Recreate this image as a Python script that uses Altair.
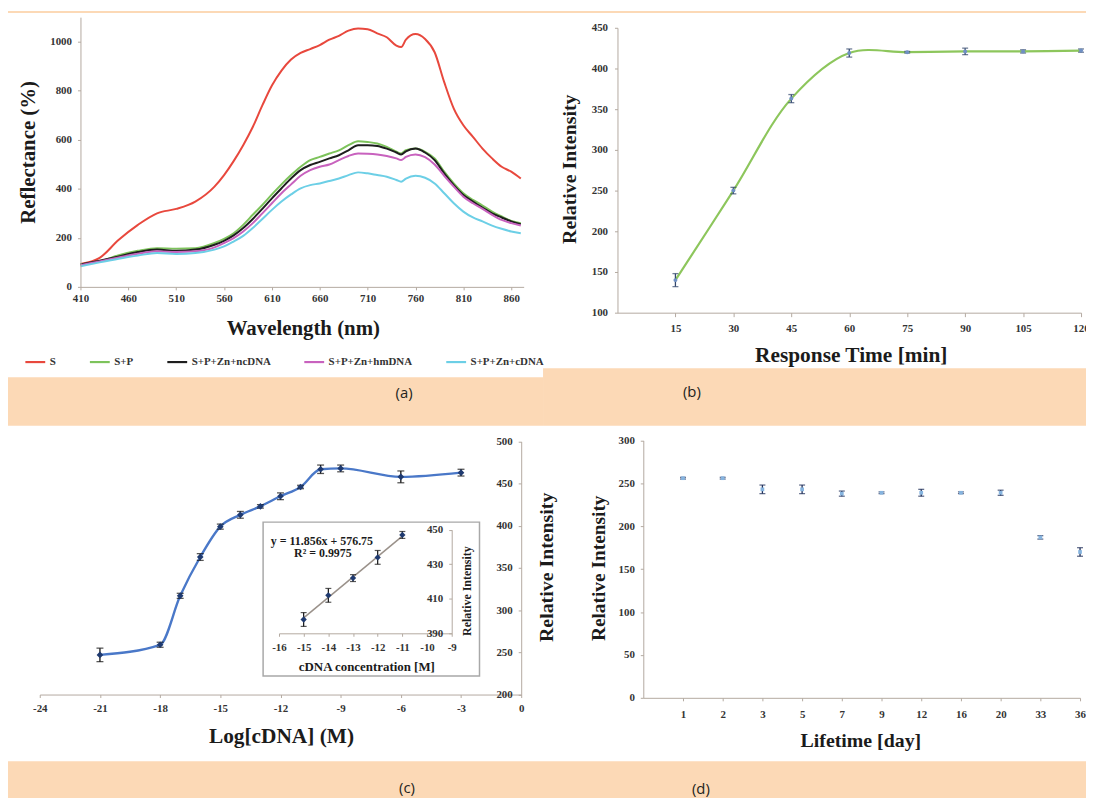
import altair as alt
import pandas as pd

W, H = 1086, 793
PEACH = "#FCD9B6"
SERIF = "Liberation Serif"
AXC = "#b3a9a0"

# ---------------- data ----------------
wavelength = [410, 430, 450, 470, 490, 510, 530, 550, 560, 570, 580, 590, 600, 610, 620,
              630, 640, 650, 660, 670, 680, 690, 700, 710, 720, 730, 740, 745, 750, 760,
              770, 780, 790, 800, 810, 820, 830, 840, 850, 860, 870]
refl_S = [93, 118, 192, 253, 300, 318, 348, 409, 456, 513, 578, 652, 740, 821, 882,
          927, 954, 970, 986, 1008, 1024, 1045, 1054, 1051, 1034, 1018, 984, 978, 1008, 1031,
          1011, 957, 835, 727, 659, 612, 564, 524, 490, 470, 442]
refl_SP = [91, 104, 129, 147, 158, 156, 158, 179, 196, 219, 253, 294, 334, 377, 418,
           456, 490, 517, 530, 544, 557, 578, 594, 591, 585, 571, 551, 544, 557, 564,
           551, 524, 470, 422, 382, 355, 332, 307, 287, 269, 260]
refl_nc = [91, 107, 124, 142, 152, 147, 152, 172, 188, 210, 240, 277, 318, 361, 402,
           442, 476, 497, 510, 524, 537, 557, 578, 578, 575, 564, 548, 540, 553, 564,
           548, 517, 463, 415, 375, 348, 323, 300, 283, 267, 256]
refl_hm = [88, 104, 120, 135, 145, 142, 145, 161, 179, 199, 226, 260, 300, 341, 382,
           418, 453, 476, 490, 499, 517, 534, 544, 543, 540, 534, 524, 517, 530, 540,
           529, 499, 453, 409, 368, 341, 318, 294, 273, 260, 250]
refl_c = [84, 100, 115, 128, 138, 134, 138, 152, 165, 185, 208, 240, 277, 314, 348,
          377, 402, 415, 422, 432, 442, 456, 467, 463, 456, 449, 436, 429, 442, 453,
          445, 422, 382, 341, 307, 283, 267, 250, 237, 226, 219]
series_names = ["S", "S+P", "S+P+Zn+ncDNA", "S+P+Zn+hmDNA", "S+P+Zn+cDNA"]
series_colors = ["#E8483D", "#7DC35B", "#1E1E1E", "#C862BE", "#6CCFE6"]
wl_ticks = [410, 460, 510, 560, 610, 660, 710, 760, 810, 860]
refl_ticks = [0, 200, 400, 600, 800, 1000]

time_min = [15, 30, 45, 60, 75, 90, 105, 120]
time_val = [140, 250, 363, 419, 420, 421, 421, 422]
time_err = [8, 4, 5, 5, 1, 4, 2, 2]
time_ticks = [15, 30, 45, 60, 75, 90, 105, 120]
time_yticks = [100, 150, 200, 250, 300, 350, 400, 450]

logc = [-21, -18, -17, -16, -15, -14, -13, -12, -11, -10, -9, -6, -3]
logc_val = [247, 259, 317, 363, 399, 413, 423, 435, 446, 467, 468, 458, 463]
logc_err = [8, 3, 3, 4, 3, 4, 2, 4, 2, 5, 4, 7, 4]
logc_ticks = [-24, -21, -18, -15, -12, -9, -6, -3, 0]
logc_yticks = [200, 250, 300, 350, 400, 450, 500]

inset_x = [-15, -14, -13, -12, -11]
inset_val = [398, 412, 422, 434, 447]
inset_err = [4, 4, 2, 4, 2]
trend_x = [-15, -11]
trend_y = [398.9, 446.3]
inset_xticks = [-16, -15, -14, -13, -12, -11, -10, -9]
inset_yticks = [390, 410, 430, 450]
eq_text = ["y = 11.856x + 576.75", "R\u00b2 = 0.9975"]
eq_x = [-14.26, -14.22]
eq_y = [443.7, 436.6]

days = ["1", "2", "3", "5", "7", "9", "12", "16", "20", "33", "36"]
day_val = [256, 256, 243, 243, 238, 239, 239, 239, 239, 187, 170]
day_err = [1, 1, 5, 5, 3, 1, 4, 1, 3, 2, 5]
day_yticks = [0, 50, 100, 150, 200, 250, 300]

panel_labels = ["(a)", "(b)", "(c)", "(d)"]


def ax(**kw):
    base = dict(grid=False, zindex=1, domainColor=AXC, tickColor=AXC, domainWidth=1,
                tickWidth=1, tickSize=3, labelFont=SERIF, labelFontWeight="bold",
                labelFontSize=11, labelColor="#333333", labelFlush=False,
                labelOverlap=False, titleFont=SERIF, titleFontWeight="bold",
                titleColor="#1b1b1b", titleBaseline="middle", titleAlign="center",
                labelExpr="'' + datum.value")
    base.update(kw)
    return alt.Axis(**base)


def with_err(xs, vals, errs, xname):
    return pd.DataFrame({xname: xs, "v": vals,
                         "lo": [v - e for v, e in zip(vals, errs)],
                         "hi": [v + e for v, e in zip(vals, errs)]})


def errbars(df, xf, sx, sy, color, cap, width):
    rule = alt.Chart(df).mark_rule(color=color, strokeWidth=width).encode(
        x=alt.X(xf + ":Q", scale=sx, axis=None),
        y=alt.Y("lo:Q", scale=sy, axis=None), y2="hi:Q")
    lo = alt.Chart(df).mark_tick(orient="horizontal", size=cap, thickness=width, color=color).encode(
        x=alt.X(xf + ":Q", scale=sx, axis=None), y=alt.Y("lo:Q", scale=sy, axis=None))
    hi = alt.Chart(df).mark_tick(orient="horizontal", size=cap, thickness=width, color=color).encode(
        x=alt.X(xf + ":Q", scale=sx, axis=None), y=alt.Y("hi:Q", scale=sy, axis=None))
    return [rule, lo, hi]


# ---------------- decorations: peach page strips between white panels ----------------
deco = pd.DataFrame({"x0": [0, 0, 539, 0], "x1": [1086, 539, 1086, 1086],
                     "y0": [0, 369, 360, 756], "y1": [2, 418, 418, 793]})
bg = alt.Chart(deco).mark_rect(color=PEACH).encode(
    x=alt.X("x0:Q", scale=None, axis=None), x2="x1:Q",
    y=alt.Y("y0:Q", scale=None, axis=None), y2="y1:Q")

boxdf = pd.DataFrame({"x0": [257], "x1": [475], "y0": [515], "y1": [670]})
box = alt.Chart(boxdf).mark_rect(fillOpacity=0, stroke="#a8a8a8", strokeWidth=1.5).encode(
    x=alt.X("x0:Q", scale=None, axis=None), x2="x1:Q",
    y=alt.Y("y0:Q", scale=None, axis=None), y2="y1:Q")

layers = [bg, box]

# ---------------- panel (a) ----------------
all_vals = refl_S + refl_SP + refl_nc + refl_hm + refl_c
dfa = pd.DataFrame({
    "wl": wavelength * 5,
    "val": all_vals,
    "series": [n for n in series_names for _ in wavelength],
})
sx_a = alt.Scale(domain=[410, 873], range=[73, 519.5], nice=False, zero=False)
sy_a = alt.Scale(domain=[0, 1100], range=[278, 6.3], nice=False, zero=False)
chart_a = alt.Chart(dfa).mark_line(strokeWidth=2, interpolate="monotone").encode(
    x=alt.X("wl:Q", scale=sx_a,
            axis=ax(orient="bottom", offset=278 - H, values=wl_ticks,
                    title="Wavelength (nm)", titleX=297, titleY=42, titleFontSize=21,
                    labelPadding=3)),
    y=alt.Y("val:Q", scale=sy_a,
            axis=ax(orient="left", offset=-73, values=refl_ticks,
                    title="Reflectance (%)", titleX=-52, titleY=142, titleFontSize=21,
                    titleAngle=270, labelPadding=6)),
    color=alt.Color("series:N", sort=series_names,
                    scale=alt.Scale(domain=series_names, range=series_colors),
                    legend=alt.Legend(orient="none", legendX=16, legendY=342,
                                      direction="horizontal", title=None,
                                      symbolType="stroke", symbolSize=400,
                                      symbolStrokeWidth=2.2, labelFont=SERIF,
                                      labelFontWeight="bold", labelFontSize=11,
                                      labelColor="#333333", columnPadding=29,
                                      labelOffset=3, zindex=1)),
)
layers.append(chart_a)

# ---------------- panel (b) ----------------
dfb = with_err(time_min, time_val, time_err, "t")
sx_b = alt.Scale(domain=[0, 120], range=[614, 1081], nice=False, zero=False)
sy_b = alt.Scale(domain=[100, 450], range=[304, 17], nice=False, zero=False)
line_b = alt.Chart(dfb).mark_line(color="#8DC65C", strokeWidth=2.2, interpolate="catmull-rom").encode(
    x=alt.X("t:Q", scale=sx_b,
            axis=ax(orient="bottom", offset=304 - H, values=time_ticks,
                    title="Response Time [min]", titleX=849, titleY=43, titleFontSize=21.5,
                    tickSize=4, labelPadding=6)),
    y=alt.Y("v:Q", scale=sy_b,
            axis=ax(orient="left", offset=-614, values=time_yticks,
                    title="Relative Intensity", titleX=-48, titleY=159, titleFontSize=20,
                    titleAngle=270, labelPadding=7)),
)
pts_b = alt.Chart(dfb).mark_point(filled=True, size=16, color="#6f90c4", opacity=1).encode(
    x=alt.X("t:Q", scale=sx_b, axis=None), y=alt.Y("v:Q", scale=sy_b, axis=None))
layers += [line_b] + errbars(dfb, "t", sx_b, sy_b, "#34486e", 6, 1.3) + [pts_b]

# ---------------- panel (c) main ----------------
dfc = with_err(logc, logc_val, logc_err, "x")
sx_c = alt.Scale(domain=[-24, 0], range=[32, 517], nice=False, zero=False)
sy_c = alt.Scale(domain=[200, 500], range=[688.7, 433.7], nice=False, zero=False)
line_c = alt.Chart(dfc).mark_line(color="#4a78c8", strokeWidth=2.4, interpolate="monotone").encode(
    x=alt.X("x:Q", scale=sx_c,
            axis=ax(orient="bottom", offset=688.7 - H, values=logc_ticks,
                    title="Log[cDNA] (M)", titleX=275, titleY=42, titleFontSize=21.5,
                    labelPadding=5)),
    y=alt.Y("v:Q", scale=sy_c,
            axis=ax(orient="left", offset=-517, values=logc_yticks,
                    title="Relative Intensity", titleX=26, titleY=560, titleFontSize=20,
                    titleAngle=270, labelPadding=6)),
)
pts_c = alt.Chart(dfc).mark_point(shape="diamond", filled=True, size=45, color="#1f3a70", opacity=1).encode(
    x=alt.X("x:Q", scale=sx_c, axis=None), y=alt.Y("v:Q", scale=sy_c, axis=None))
layers += [line_c] + errbars(dfc, "x", sx_c, sy_c, "#111111", 7, 1.3) + [pts_c]

# ---------------- panel (c) inset ----------------
dfi = with_err(inset_x, inset_val, inset_err, "x")
dft = pd.DataFrame({"x": trend_x, "v": trend_y})
dfe = pd.DataFrame({"txt": eq_text, "x": eq_x, "v": eq_y})
sx_i = alt.Scale(domain=[-16, -9], range=[273, 447], nice=False, zero=False)
sy_i = alt.Scale(domain=[390, 450], range=[627, 522.7], nice=False, zero=False)
trend = alt.Chart(dft).mark_line(color="#9a918a", strokeWidth=1.5).encode(
    x=alt.X("x:Q", scale=sx_i,
            axis=ax(orient="bottom", offset=627 - H, values=inset_xticks,
                    title="cDNA concentration  [M]", titleX=361, titleY=33,
                    titleFontSize=13, labelFontSize=11, labelPadding=5)),
    y=alt.Y("v:Q", scale=sy_i,
            axis=ax(orient="left", offset=-447, values=inset_yticks,
                    title="Relative Intensity", titleX=15, titleY=584, titleFontSize=12,
                    titleAngle=270, labelFontSize=11, labelPadding=6)),
)
pts_i = alt.Chart(dfi).mark_point(shape="diamond", filled=True, size=40, color="#1f3a70", opacity=1).encode(
    x=alt.X("x:Q", scale=sx_i, axis=None), y=alt.Y("v:Q", scale=sy_i, axis=None))
eq = alt.Chart(dfe).mark_text(font=SERIF, fontWeight="bold", fontSize=12, color="#1b1b1b",
                              align="center", baseline="middle").encode(
    x=alt.X("x:Q", scale=sx_i, axis=None), y=alt.Y("v:Q", scale=sy_i, axis=None),
    text="txt:N")
layers += [trend] + errbars(dfi, "x", sx_i, sy_i, "#111111", 6, 1.2) + [pts_i, eq]

# ---------------- panel (d) ----------------
idx = list(range(1, len(days) + 1))
dfd = with_err(idx, day_val, day_err, "i")
label_expr = "[''," + ",".join("'%s'" % d for d in days) + "][datum.value]"
sx_d = alt.Scale(domain=[0, len(days)], range=[640, 1080], nice=False, zero=False)
sy_d = alt.Scale(domain=[0, 300], range=[692, 432.7], nice=False, zero=False)
pts_d = alt.Chart(dfd).mark_square(size=14, color="#86b4df", opacity=1).encode(
    x=alt.X("i:Q", scale=sx_d,
            axis=ax(orient="bottom", offset=692 - H, values=idx, labelExpr=label_expr,
                    title="Lifetime [day]", titleX=858.7, titleY=43, titleFontSize=20,
                    labelPadding=8)),
    y=alt.Y("v:Q", scale=sy_d,
            axis=ax(orient="left", offset=-640, values=day_yticks,
                    title="Relative Intensity", titleX=-45, titleY=569 - 8, titleFontSize=19.5,
                    titleAngle=270, labelPadding=6)),
)
layers += errbars(dfd, "i", sx_d, sy_d, "#1f2f5a", 6, 1.3) + [pts_d]

# ---------------- panel labels ----------------
labs = pd.DataFrame({"t": panel_labels, "px": [399, 689, 402, 698], "py": [385, 384, 783, 784]})
labels = alt.Chart(labs).mark_text(font="Open Sans", fontSize=15, color="#231f20",
                                   align="center", baseline="middle").encode(
    x=alt.X("px:Q", scale=None, axis=None), y=alt.Y("py:Q", scale=None, axis=None),
    text="t:N")
layers.append(labels)

chart = alt.layer(*layers).resolve_scale(
    x="independent", y="independent"
).properties(
    width=W, height=H, padding=0, autosize=alt.AutoSizeParams(type="none")
).configure(background="white").configure_view(strokeWidth=0)

chart.save("out.html", embed_options={"renderer": "svg", "actions": False})
